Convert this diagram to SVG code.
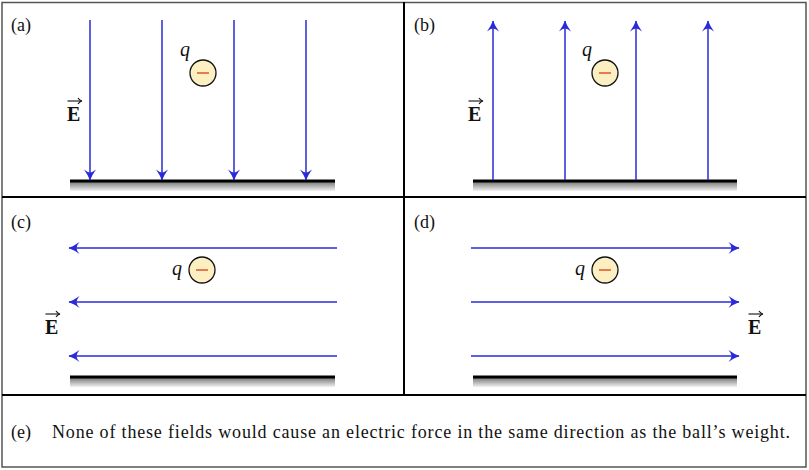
<svg xmlns="http://www.w3.org/2000/svg" width="809" height="470" viewBox="0 0 809 470">
<defs>
<style>
text{font-family:'Liberation Serif','Times New Roman',serif}
.lbl{font-size:18px;fill:#111}
.q{font-size:20px;font-style:italic;fill:#111}
.E{font-size:20px;font-weight:bold;fill:#111}
.field{stroke:#2a2ad8;stroke-width:1.5;fill:none;marker-end:url(#ah)}
.ground{stroke:#000;stroke-width:3}
.ball{fill:#fcefc2;stroke:#111;stroke-width:1.3}
.minus{stroke:#e0552a;stroke-width:1.5}
.vec{stroke:#111;stroke-width:1.1;fill:none}
.div{stroke:#000;stroke-width:2}
</style>
<marker id="ah" markerUnits="userSpaceOnUse" markerWidth="16" markerHeight="16" viewBox="-14 -8 16 16" refX="0" refY="0" orient="auto">
<path d="M0.5,0 Q-5,-2 -10.5,-6 Q-7.5,-2.5 -7.5,0 Q-7.5,2.5 -10.5,6 Q-5,2 0.5,0 Z" fill="#2a2ad8"/>
</marker>
<linearGradient id="gr" x1="0" y1="0" x2="0" y2="1">
<stop offset="0" stop-color="#7a7a7a"/>
<stop offset="1" stop-color="#f2f2f2"/>
</linearGradient>
</defs>
<rect x="0" y="0" width="809" height="470" fill="#fff"/>
<rect x="2" y="2.5" width="804" height="464.5" fill="none" stroke="#555" stroke-width="1.5"/>
<g id="dividers">
<line class="div" x1="2" y1="197" x2="806" y2="197"/>
<line class="div" x1="2" y1="395" x2="806" y2="395"/>
<line class="div" x1="404" y1="2" x2="404" y2="395"/>
</g>
<g id="panel-a">
<text class="lbl" x="11" y="31">(a)</text>
<rect x="70" y="182" width="265" height="9" fill="url(#gr)"/>
<line class="ground" x1="70" y1="181" x2="335" y2="181"/>
<circle class="ball" cx="203" cy="73" r="13"/>
<line class="minus" x1="197" y1="73" x2="209" y2="73"/>
<text class="q" x="180" y="56">q</text>
<text class="E" x="67" y="121">E</text>
<line class="vec" x1="67.5" y1="101" x2="81" y2="101"/>
<path class="vec" d="M78,98 Q79.5,100.5 82,101 Q79.5,101.5 78,104"/>
</g>
<g id="panel-b">
<text class="lbl" x="414" y="31">(b)</text>
<rect x="473" y="182" width="264" height="9" fill="url(#gr)"/>
<line class="ground" x1="473" y1="181" x2="737" y2="181"/>
<circle class="ball" cx="605" cy="73" r="13"/>
<line class="minus" x1="599" y1="73" x2="611" y2="73"/>
<text class="q" x="582" y="56">q</text>
<text class="E" x="468" y="121">E</text>
<line class="vec" x1="468.5" y1="101" x2="482" y2="101"/>
<path class="vec" d="M479,98 Q480.5,100.5 483,101 Q480.5,101.5 479,104"/>
</g>
<g id="panel-c">
<text class="lbl" x="11" y="228">(c)</text>
<rect x="70" y="378" width="265" height="9" fill="url(#gr)"/>
<line class="ground" x1="70" y1="377" x2="335" y2="377"/>
<circle class="ball" cx="202" cy="270" r="13"/>
<line class="minus" x1="196" y1="270" x2="208" y2="270"/>
<text class="q" x="172" y="275">q</text>
<text class="E" x="45" y="334">E</text>
<line class="vec" x1="45.5" y1="314" x2="59" y2="314"/>
<path class="vec" d="M56,311 Q57.5,313.5 60,314 Q57.5,314.5 56,317"/>
</g>
<g id="panel-d">
<text class="lbl" x="414" y="228">(d)</text>
<rect x="473" y="378" width="264" height="9" fill="url(#gr)"/>
<line class="ground" x1="473" y1="377" x2="737" y2="377"/>
<circle class="ball" cx="605" cy="270" r="13"/>
<line class="minus" x1="599" y1="270" x2="611" y2="270"/>
<text class="q" x="575" y="275">q</text>
<text class="E" x="748" y="334">E</text>
<line class="vec" x1="748.5" y1="314" x2="762" y2="314"/>
<path class="vec" d="M759,311 Q760.5,313.5 763,314 Q760.5,314.5 759,317"/>
</g>
<g id="panel-e">
<text class="lbl" x="11" y="438">(e)</text>
<text class="lbl" x="52" y="438" textLength="738" lengthAdjust="spacing">None of these fields would cause an electric force in the same direction as the ball’s weight.</text>
</g>
<g id="connectors">
<line class="field" x1="90" y1="20" x2="90" y2="180"/>
<line class="field" x1="162" y1="20" x2="162" y2="180"/>
<line class="field" x1="234" y1="20" x2="234" y2="180"/>
<line class="field" x1="306" y1="20" x2="306" y2="180"/>
<line class="field" x1="493" y1="180" x2="493" y2="21"/>
<line class="field" x1="565" y1="180" x2="565" y2="21"/>
<line class="field" x1="636" y1="180" x2="636" y2="21"/>
<line class="field" x1="708" y1="180" x2="708" y2="21"/>
<line class="field" x1="337" y1="248" x2="69" y2="248"/>
<line class="field" x1="337" y1="302" x2="69" y2="302"/>
<line class="field" x1="337" y1="356" x2="69" y2="356"/>
<line class="field" x1="471" y1="248" x2="739" y2="248"/>
<line class="field" x1="471" y1="302" x2="739" y2="302"/>
<line class="field" x1="471" y1="356" x2="739" y2="356"/>
</g>
</svg>
